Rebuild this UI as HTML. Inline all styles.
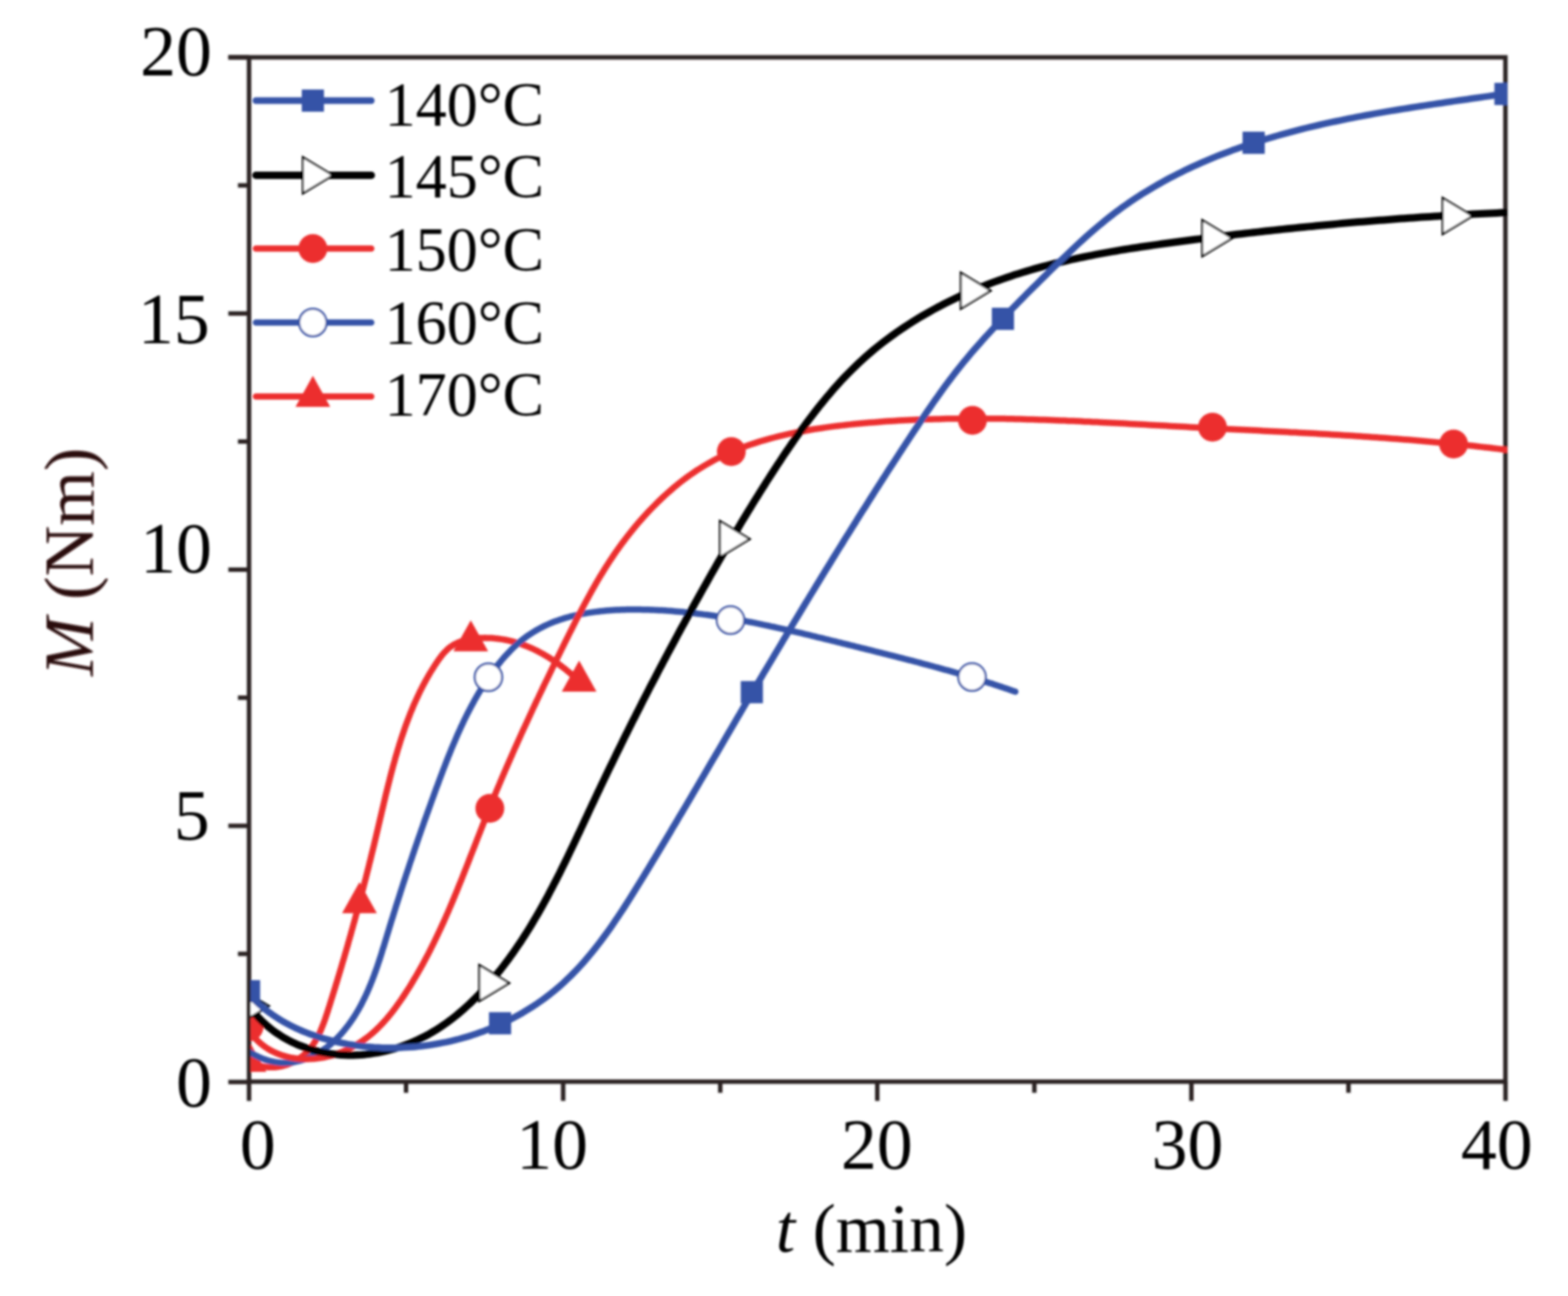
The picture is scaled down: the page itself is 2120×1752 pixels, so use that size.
<!DOCTYPE html>
<html><head><meta charset="utf-8"><title>M vs t</title>
<style>
html,body{margin:0;padding:0;background:#fff;}
svg{display:block;}
text{font-family:"Liberation Serif","Times New Roman",serif;}
</style></head><body>
<svg xmlns="http://www.w3.org/2000/svg" width="2120" height="1752" viewBox="0 0 2120 1752">
<rect width="2120" height="1752" fill="#fff"/>
<defs><filter id="bl" x="0" y="0" width="100%" height="100%" filterUnits="userSpaceOnUse"><feGaussianBlur stdDeviation="1.5"/></filter><clipPath id="pa"><rect x="339" y="74" width="1699" height="1386"/></clipPath></defs>
<g filter="url(#bl)">

<g stroke="#2a2224" stroke-width="6" fill="none" stroke-linecap="butt">
<path d="M336.7,74.8 V1462.3 M334.0,1462.3 H2038.1000000000001 M2035.4,1462.3 V74.8 M2038.1000000000001,77.5 H308.7"/>
<path d="M336.7,1462.7 H308.7"/>
<path d="M336.7,1116.4 H308.7"/>
<path d="M336.7,770.1 H308.7"/>
<path d="M336.7,423.8 H308.7"/>
<path d="M336.7,77.5 H308.7"/>
<path d="M336.7,1289.5 H321.7"/>
<path d="M336.7,943.2 H321.7"/>
<path d="M336.7,596.9 H321.7"/>
<path d="M336.7,250.6 H321.7"/>
<path d="M336.7,1462.3 V1488.3"/>
<path d="M761.4,1462.3 V1488.3"/>
<path d="M1186.1,1462.3 V1488.3"/>
<path d="M1610.8,1462.3 V1488.3"/>
<path d="M2035.5,1462.3 V1488.3"/>
<path d="M549.0,1462.3 V1477.3"/>
<path d="M973.8,1462.3 V1477.3"/>
<path d="M1398.5,1462.3 V1477.3"/>
<path d="M1823.2,1462.3 V1477.3"/>
</g>
<g clip-path="url(#pa)">
<path d="M336.3,1435.1 L338.5,1436.2 L340.7,1437.2 L342.9,1438.2 L345.1,1439.0 L347.3,1439.8 L349.5,1440.4 L351.7,1441.0 L353.9,1441.5 L356.1,1441.9 L358.3,1442.3 L360.5,1442.5 L362.7,1442.7 L364.9,1442.8 L367.1,1442.8 L369.2,1442.8 L371.4,1442.7 L373.5,1442.5 L375.7,1442.2 L377.8,1441.9 L379.9,1441.5 L382.0,1441.0 L384.0,1440.5 L386.1,1439.9 L388.1,1439.2 L390.1,1438.5 L392.0,1437.7 L394.0,1436.9 L395.9,1436.0 L397.8,1435.0 L399.6,1434.0 L401.4,1432.9 L403.2,1431.8 L405.0,1430.6 L406.7,1429.4 L408.3,1428.2 L410.0,1426.8 L411.5,1425.5 L413.1,1424.1 L414.6,1422.6 L416.0,1421.1 L417.4,1419.6 L418.8,1418.0 L420.1,1416.4 L421.4,1414.8 L422.6,1413.1 L423.8,1411.4 L424.9,1409.6 L426.0,1407.9 L427.1,1406.0 L428.2,1404.2 L429.2,1402.3 L430.1,1400.5 L431.1,1398.5 L432.0,1396.6 L432.9,1394.7 L433.8,1392.7 L434.6,1390.7 L435.4,1388.7 L436.2,1386.6 L437.0,1384.6 L437.8,1382.5 L438.5,1380.5 L439.3,1378.4 L440.0,1376.3 L440.7,1374.2 L441.4,1372.1 L442.1,1370.0 L442.8,1367.9 L443.5,1365.8 L444.1,1363.7 L444.8,1361.6 L445.5,1359.5 L446.1,1357.4 L446.8,1355.3 L447.4,1353.1 L448.1,1351.0 L448.8,1348.9 L449.4,1346.8 L450.1,1344.7 L450.7,1342.6 L451.4,1340.5 L452.0,1338.5 L452.7,1336.4 L453.3,1334.3 L453.9,1332.2 L454.6,1330.1 L455.2,1328.0 L455.9,1325.9 L456.5,1323.8 L457.1,1321.7 L457.8,1319.6 L458.4,1317.6 L459.0,1315.5 L459.6,1313.4 L460.3,1311.3 L460.9,1309.2 L461.5,1307.1 L462.1,1305.1 L462.7,1303.0 L463.3,1300.9 L463.9,1298.8 L464.6,1296.8 L465.2,1294.7 L465.8,1292.6 L466.4,1290.5 L467.0,1288.4 L467.6,1286.4 L468.2,1284.3 L468.8,1282.2 L469.4,1280.2 L470.0,1278.1 L470.6,1276.0 L471.1,1273.9 L471.7,1271.9 L472.3,1269.8 L472.9,1267.7 L473.5,1265.7 L474.1,1263.6 L474.7,1261.5 L475.2,1259.4 L475.8,1257.4 L476.4,1255.3 L477.0,1253.2 L477.5,1251.2 L478.1,1249.1 L478.7,1247.0 L479.3,1245.0 L479.8,1242.9 L480.4,1240.8 L480.9,1238.7 L481.5,1236.7 L482.1,1234.6 L482.6,1232.5 L483.2,1230.5 L483.7,1228.4 L484.3,1226.3 L484.9,1224.2 L485.4,1222.2 L486.0,1220.1 L486.5,1218.0 L487.1,1216.0 L487.6,1213.9 L488.2,1211.8 L488.7,1209.7 L489.2,1207.7 L489.8,1205.6 L490.3,1203.5 L490.9,1201.4 L491.4,1199.4 L491.9,1197.3 L492.5,1195.2 L493.0,1193.1 L493.5,1191.0 L494.1,1189.0 L494.6,1186.9 L495.1,1184.8 L495.7,1182.7 L496.2,1180.6 L496.7,1178.5 L497.2,1176.5 L497.8,1174.4 L498.3,1172.3 L498.8,1170.2 L499.3,1168.1 L499.8,1166.0 L500.4,1163.9 L500.9,1161.8 L501.4,1159.7 L501.9,1157.6 L502.4,1155.5 L502.9,1153.4 L503.4,1151.3 L504.0,1149.2 L504.5,1147.1 L505.0,1145.0 L505.5,1142.9 L506.0,1140.8 L506.5,1138.7 L507.0,1136.6 L507.5,1134.5 L508.0,1132.4 L508.5,1130.3 L509.0,1128.2 L509.5,1126.0 L510.0,1123.9 L510.5,1121.8 L511.0,1119.7 L511.5,1117.6 L512.0,1115.4 L512.5,1113.3 L513.0,1111.2 L513.5,1109.1 L514.0,1106.9 L514.5,1104.8 L515.0,1102.7 L515.5,1100.6 L516.0,1098.4 L516.5,1096.3 L517.0,1094.2 L517.5,1092.0 L518.0,1089.9 L518.5,1087.8 L519.0,1085.6 L519.5,1083.5 L520.0,1081.4 L520.5,1079.2 L521.0,1077.1 L521.5,1075.0 L522.0,1072.8 L522.6,1070.7 L523.1,1068.6 L523.6,1066.5 L524.1,1064.3 L524.7,1062.2 L525.2,1060.1 L525.7,1057.9 L526.3,1055.8 L526.8,1053.7 L527.3,1051.6 L527.9,1049.4 L528.4,1047.3 L529.0,1045.2 L529.5,1043.1 L530.1,1041.0 L530.7,1038.9 L531.2,1036.7 L531.8,1034.6 L532.4,1032.5 L533.0,1030.4 L533.6,1028.3 L534.1,1026.2 L534.7,1024.1 L535.3,1022.0 L536.0,1019.9 L536.6,1017.8 L537.2,1015.7 L537.8,1013.6 L538.4,1011.6 L539.1,1009.5 L539.7,1007.4 L540.4,1005.3 L541.0,1003.2 L541.7,1001.2 L542.3,999.1 L543.0,997.0 L543.7,995.0 L544.4,992.9 L545.1,990.9 L545.8,988.8 L546.5,986.8 L547.2,984.7 L547.9,982.7 L548.6,980.7 L549.4,978.6 L550.1,976.6 L550.9,974.6 L551.6,972.6 L552.4,970.6 L553.2,968.5 L554.0,966.5 L554.7,964.5 L555.5,962.5 L556.4,960.6 L557.2,958.6 L558.0,956.6 L558.8,954.6 L559.7,952.6 L560.5,950.7 L561.4,948.7 L562.3,946.8 L563.2,944.8 L564.1,942.9 L565.0,940.9 L565.9,939.0 L566.8,937.1 L567.7,935.1 L568.7,933.2 L569.7,931.3 L570.6,929.4 L571.6,927.5 L572.6,925.6 L573.6,923.7 L574.6,921.9 L575.6,920.0 L576.7,918.1 L577.7,916.3 L578.8,914.4 L579.8,912.6 L580.9,910.7 L582.0,908.9 L583.1,907.1 L584.2,905.3 L585.4,903.5 L586.5,901.7 L587.6,899.9 L588.8,898.1 L590.0,896.3 L591.2,894.5 L592.4,892.8 L593.6,891.0 L594.9,889.3 L596.2,887.6 L597.5,885.9 L598.8,884.3 L600.2,882.7 L601.6,881.2 L603.1,879.7 L604.6,878.2 L606.1,876.8 L607.7,875.5 L609.4,874.3 L611.1,873.1 L612.9,872.0 L614.7,870.9 L616.6,870.0 L618.5,869.1 L620.5,868.2 L622.5,867.5 L624.5,866.7 L626.6,866.1 L628.7,865.5 L630.9,865.0 L633.0,864.5 L635.2,864.1 L637.4,863.7 L639.7,863.4 L641.9,863.1 L644.2,862.8 L646.4,862.7 L648.7,862.5 L651.0,862.4 L653.3,862.4 L655.6,862.3 L657.8,862.4 L660.1,862.4 L662.4,862.5 L664.6,862.6 L666.8,862.8 L669.1,863.0 L671.3,863.2 L673.5,863.5 L675.7,863.8 L677.9,864.1 L680.0,864.4 L682.2,864.8 L684.4,865.2 L686.5,865.7 L688.6,866.2 L690.8,866.7 L692.9,867.2 L695.0,867.8 L697.1,868.4 L699.1,869.0 L701.2,869.6 L703.3,870.3 L705.3,871.0 L707.4,871.7 L709.4,872.5 L711.4,873.3 L713.4,874.1 L715.4,874.9 L717.4,875.8 L719.4,876.6 L721.3,877.5 L723.3,878.5 L725.2,879.4 L727.2,880.4 L729.1,881.4 L731.0,882.4 L732.9,883.4 L734.8,884.5 L736.6,885.6 L738.5,886.7 L740.4,887.8 L742.2,888.9 L744.0,890.1 L745.9,891.3 L747.7,892.5 L749.5,893.7 L751.2,894.9 L753.0,896.1 L754.8,897.4 L756.5,898.7 L758.3,900.0 L760.0,901.3 L761.7,902.6 L763.4,903.9 L765.1,905.3 L766.8,906.7 L768.4,908.0 L770.1,909.4 L771.7,910.8 L773.4,912.3 L775.0,913.7 L776.6,915.1 L778.2,916.6 L779.8,918.0 L781.4,919.5 L782.9,921.0" fill="none" stroke-linecap="round" stroke-linejoin="round" stroke="#ec2d2d" stroke-width="8.5"/>
<polygon points="336.7,1407.0 313.2,1449.0 360.2,1449.0" fill="#ec2d2d"/>
<polygon points="486.0,1192.4 462.5,1234.4 509.5,1234.4" fill="#ec2d2d"/>
<polygon points="636.5,838.5 613.0,880.5 660.0,880.5" fill="#ec2d2d"/>
<polygon points="783.0,893.0 759.5,935.0 806.5,935.0" fill="#ec2d2d"/>
<path d="M335.3,1420.7 L338.9,1423.1 L342.5,1425.2 L346.2,1427.2 L349.8,1428.9 L353.4,1430.5 L357.0,1431.9 L360.6,1433.1 L364.2,1434.1 L367.7,1434.9 L371.3,1435.6 L374.8,1436.1 L378.4,1436.5 L381.9,1436.7 L385.4,1436.7 L388.9,1436.6 L392.3,1436.4 L395.7,1436.0 L399.1,1435.4 L402.5,1434.7 L405.8,1433.9 L409.1,1433.0 L412.4,1431.9 L415.6,1430.8 L418.8,1429.5 L421.9,1428.1 L425.0,1426.5 L428.0,1424.9 L431.0,1423.2 L433.9,1421.4 L436.8,1419.5 L439.6,1417.4 L442.4,1415.4 L445.1,1413.2 L447.8,1410.9 L450.4,1408.6 L453.0,1406.2 L455.5,1403.7 L458.0,1401.2 L460.4,1398.6 L462.8,1395.9 L465.1,1393.2 L467.3,1390.4 L469.5,1387.6 L471.7,1384.7 L473.8,1381.8 L475.8,1378.9 L477.8,1376.0 L479.7,1373.0 L481.6,1369.9 L483.4,1366.9 L485.2,1363.8 L486.9,1360.7 L488.6,1357.6 L490.2,1354.4 L491.8,1351.2 L493.4,1348.0 L494.9,1344.8 L496.4,1341.6 L497.8,1338.3 L499.2,1335.0 L500.6,1331.8 L501.9,1328.4 L503.3,1325.1 L504.5,1321.8 L505.8,1318.4 L507.0,1315.0 L508.2,1311.7 L509.4,1308.3 L510.6,1304.9 L511.7,1301.5 L512.9,1298.0 L514.0,1294.6 L515.1,1291.2 L516.2,1287.7 L517.2,1284.3 L518.3,1280.9 L519.4,1277.4 L520.4,1274.0 L521.5,1270.5 L522.5,1267.1 L523.6,1263.6 L524.6,1260.2 L525.7,1256.7 L526.7,1253.3 L527.8,1249.9 L528.8,1246.4 L529.9,1243.0 L531.0,1239.6 L532.0,1236.2 L533.1,1232.7 L534.2,1229.3 L535.2,1225.9 L536.3,1222.5 L537.4,1219.1 L538.5,1215.7 L539.6,1212.3 L540.7,1208.9 L541.7,1205.5 L542.8,1202.1 L543.9,1198.7 L545.0,1195.3 L546.1,1191.9 L547.2,1188.6 L548.3,1185.2 L549.4,1181.8 L550.6,1178.4 L551.7,1175.1 L552.8,1171.7 L553.9,1168.3 L555.0,1165.0 L556.2,1161.6 L557.3,1158.2 L558.4,1154.9 L559.6,1151.5 L560.7,1148.2 L561.8,1144.8 L563.0,1141.5 L564.1,1138.1 L565.3,1134.8 L566.4,1131.4 L567.6,1128.1 L568.8,1124.7 L569.9,1121.4 L571.1,1118.1 L572.3,1114.7 L573.4,1111.4 L574.6,1108.0 L575.8,1104.7 L577.0,1101.4 L578.2,1098.0 L579.4,1094.7 L580.6,1091.4 L581.8,1088.1 L583.0,1084.7 L584.2,1081.4 L585.4,1078.1 L586.6,1074.8 L587.8,1071.4 L589.0,1068.1 L590.2,1064.8 L591.5,1061.5 L592.7,1058.2 L593.9,1054.9 L595.2,1051.5 L596.4,1048.2 L597.7,1044.9 L598.9,1041.6 L600.2,1038.3 L601.5,1035.0 L602.7,1031.7 L604.0,1028.4 L605.3,1025.1 L606.6,1021.8 L608.0,1018.5 L609.3,1015.2 L610.6,1011.9 L612.0,1008.6 L613.4,1005.3 L614.8,1002.1 L616.2,998.8 L617.6,995.5 L619.0,992.3 L620.5,989.0 L622.0,985.8 L623.4,982.5 L625.0,979.3 L626.5,976.0 L628.0,972.8 L629.6,969.6 L631.2,966.4 L632.8,963.2 L634.5,960.0 L636.2,956.8 L637.9,953.6 L639.6,950.4 L641.3,947.2 L643.1,944.1 L644.9,940.9 L646.7,937.8 L648.6,934.7 L650.5,931.5 L652.4,928.4 L654.4,925.3 L656.4,922.2 L658.4,919.2 L660.4,916.2 L662.5,913.1 L664.6,910.1 L666.8,907.2 L668.9,904.3 L671.1,901.4 L673.4,898.5 L675.7,895.7 L678.0,892.9 L680.3,890.1 L682.7,887.4 L685.1,884.8 L687.6,882.2 L690.1,879.6 L692.6,877.1 L695.1,874.6 L697.7,872.2 L700.3,869.9 L703.0,867.6 L705.7,865.4 L708.5,863.2 L711.2,861.1 L714.1,859.1 L716.9,857.2 L719.8,855.3 L722.7,853.5 L725.7,851.8 L728.7,850.1 L731.7,848.5 L734.8,846.9 L737.9,845.4 L741.0,844.0 L744.1,842.6 L747.3,841.3 L750.5,840.1 L753.8,838.9 L757.0,837.8 L760.3,836.7 L763.6,835.6 L767.0,834.7 L770.3,833.7 L773.7,832.9 L777.1,832.1 L780.5,831.3 L784.0,830.5 L787.4,829.9 L790.9,829.2 L794.4,828.6 L797.9,828.1 L801.4,827.6 L804.9,827.1 L808.5,826.7 L812.0,826.3 L815.6,825.9 L819.1,825.6 L822.7,825.3 L826.3,825.0 L829.9,824.8 L833.5,824.6 L837.1,824.5 L840.7,824.3 L844.3,824.2 L847.9,824.1 L851.5,824.1 L855.1,824.0 L858.7,824.0 L862.3,824.1 L865.9,824.1 L869.5,824.2 L873.1,824.2 L876.7,824.3 L880.3,824.4 L883.9,824.6 L887.5,824.7 L891.0,824.9 L894.6,825.1 L898.2,825.3 L901.8,825.6 L905.3,825.8 L908.9,826.1 L912.5,826.4 L916.0,826.7 L919.6,827.0 L923.1,827.3 L926.7,827.7 L930.2,828.0 L933.8,828.4 L937.3,828.8 L940.9,829.2 L944.4,829.7 L947.9,830.1 L951.5,830.6 L955.0,831.0 L958.5,831.5 L962.1,832.0 L965.6,832.5 L969.1,833.1 L972.6,833.6 L976.1,834.2 L979.7,834.7 L983.2,835.3 L986.7,835.9 L990.2,836.5 L993.7,837.1 L997.2,837.7 L1000.7,838.4 L1004.2,839.0 L1007.7,839.7 L1011.2,840.4 L1014.7,841.0 L1018.2,841.7 L1021.7,842.4 L1025.2,843.1 L1028.7,843.8 L1032.2,844.6 L1035.7,845.3 L1039.1,846.0 L1042.6,846.8 L1046.1,847.5 L1049.6,848.3 L1053.1,849.1 L1056.5,849.8 L1060.0,850.6 L1063.5,851.4 L1067.0,852.2 L1070.4,853.0 L1073.9,853.8 L1077.4,854.6 L1080.9,855.4 L1084.3,856.2 L1087.8,857.1 L1091.3,857.9 L1094.7,858.7 L1098.2,859.6 L1101.7,860.4 L1105.1,861.3 L1108.6,862.1 L1112.1,862.9 L1115.5,863.8 L1119.0,864.6 L1122.4,865.5 L1125.9,866.4 L1129.4,867.2 L1132.8,868.1 L1136.3,868.9 L1139.7,869.8 L1143.2,870.7 L1146.6,871.5 L1150.1,872.4 L1153.6,873.2 L1157.0,874.1 L1160.5,874.9 L1163.9,875.8 L1167.4,876.7 L1170.8,877.5 L1174.3,878.4 L1177.7,879.2 L1181.2,880.1 L1184.6,881.0 L1188.1,881.8 L1191.5,882.7 L1195.0,883.6 L1198.4,884.4 L1201.9,885.3 L1205.3,886.2 L1208.8,887.0 L1212.2,887.9 L1215.7,888.8 L1219.1,889.7 L1222.6,890.6 L1226.0,891.5 L1229.4,892.3 L1232.9,893.2 L1236.3,894.1 L1239.8,895.0 L1243.2,895.9 L1246.6,896.9 L1250.1,897.8 L1253.5,898.7 L1256.9,899.6 L1260.4,900.5 L1263.8,901.5 L1267.2,902.4 L1270.7,903.4 L1274.1,904.3 L1277.5,905.3 L1281.0,906.2 L1284.4,907.2 L1287.8,908.2 L1291.2,909.2 L1294.6,910.1 L1298.1,911.1 L1301.5,912.1 L1304.9,913.1 L1308.3,914.2 L1311.7,915.2 L1315.1,916.2 L1318.5,917.2 L1321.9,918.3 L1325.3,919.3 L1328.8,920.4 L1332.2,921.5 L1335.6,922.6 L1339.0,923.7 L1342.4,924.7 L1345.7,925.9 L1349.1,927.0 L1352.5,928.1 L1355.9,929.2 L1359.3,930.4 L1362.7,931.5 L1366.1,932.7 L1369.5,933.9 L1372.8,935.1" fill="none" stroke-linecap="round" stroke-linejoin="round" stroke="#3653a7" stroke-width="8.5"/>
<circle cx="660.4" cy="915.5" r="18.5" fill="#fff" stroke="#3653a7" stroke-width="3"/>
<circle cx="987.7" cy="838.3" r="18.5" fill="#fff" stroke="#3653a7" stroke-width="3"/>
<circle cx="1314.2" cy="915.3" r="18.5" fill="#fff" stroke="#3653a7" stroke-width="3"/>
<path d="M334.8,1390.2 L338.1,1395.2 L341.6,1399.8 L345.4,1404.1 L349.4,1408.0 L353.6,1411.7 L358.0,1415.0 L362.5,1418.0 L367.2,1420.7 L372.1,1423.0 L377.1,1425.1 L382.2,1426.9 L387.4,1428.4 L392.7,1429.6 L398.0,1430.5 L403.4,1431.2 L408.8,1431.6 L414.3,1431.7 L419.8,1431.6 L425.3,1431.3 L430.7,1430.6 L436.1,1429.8 L441.5,1428.7 L446.8,1427.4 L452.0,1425.9 L457.2,1424.1 L462.3,1422.2 L467.3,1420.0 L472.2,1417.7 L477.0,1415.1 L481.8,1412.4 L486.4,1409.5 L490.9,1406.5 L495.3,1403.3 L499.6,1400.0 L503.8,1396.5 L507.8,1392.9 L511.7,1389.1 L515.5,1385.2 L519.2,1381.3 L522.8,1377.2 L526.3,1373.0 L529.7,1368.8 L533.1,1364.4 L536.3,1360.0 L539.5,1355.6 L542.6,1351.1 L545.7,1346.5 L548.7,1341.9 L551.7,1337.3 L554.6,1332.7 L557.4,1328.0 L560.2,1323.3 L563.0,1318.6 L565.7,1313.9 L568.4,1309.1 L571.1,1304.3 L573.7,1299.5 L576.2,1294.7 L578.8,1289.9 L581.3,1285.0 L583.7,1280.2 L586.1,1275.3 L588.5,1270.4 L590.9,1265.4 L593.2,1260.5 L595.5,1255.6 L597.8,1250.6 L600.1,1245.6 L602.3,1240.6 L604.5,1235.6 L606.7,1230.6 L608.8,1225.6 L611.0,1220.5 L613.1,1215.5 L615.2,1210.4 L617.3,1205.3 L619.3,1200.3 L621.4,1195.2 L623.5,1190.1 L625.5,1185.0 L627.5,1179.9 L629.5,1174.8 L631.5,1169.7 L633.5,1164.6 L635.5,1159.4 L637.5,1154.3 L639.5,1149.2 L641.5,1144.1 L643.5,1139.0 L645.5,1133.8 L647.5,1128.7 L649.5,1123.6 L651.5,1118.5 L653.5,1113.4 L655.5,1108.3 L657.5,1103.1 L659.6,1098.0 L661.6,1092.9 L663.7,1087.9 L665.8,1082.8 L667.8,1077.7 L669.9,1072.6 L672.0,1067.5 L674.2,1062.5 L676.3,1057.4 L678.4,1052.4 L680.6,1047.3 L682.7,1042.3 L684.9,1037.2 L687.1,1032.2 L689.3,1027.2 L691.5,1022.2 L693.7,1017.1 L695.9,1012.1 L698.2,1007.1 L700.4,1002.1 L702.7,997.1 L704.9,992.1 L707.2,987.1 L709.5,982.2 L711.8,977.2 L714.1,972.2 L716.4,967.2 L718.7,962.3 L721.0,957.3 L723.3,952.4 L725.6,947.4 L728.0,942.5 L730.3,937.5 L732.7,932.6 L735.0,927.6 L737.4,922.7 L739.8,917.8 L742.2,912.9 L744.6,907.9 L746.9,903.0 L749.3,898.1 L751.7,893.2 L754.1,888.3 L756.6,883.4 L759.0,878.5 L761.4,873.6 L763.8,868.7 L766.2,863.8 L768.7,858.9 L771.1,854.0 L773.6,849.2 L776.0,844.3 L778.5,839.4 L781.0,834.6 L783.5,829.7 L786.0,824.9 L788.5,820.1 L791.1,815.3 L793.7,810.5 L796.3,805.7 L798.9,800.9 L801.6,796.2 L804.3,791.4 L807.0,786.7 L809.7,782.0 L812.6,777.3 L815.4,772.7 L818.3,768.0 L821.2,763.4 L824.2,758.8 L827.2,754.3 L830.3,749.7 L833.4,745.2 L836.6,740.7 L839.8,736.3 L843.1,731.9 L846.4,727.5 L849.8,723.1 L853.2,718.8 L856.7,714.5 L860.2,710.3 L863.8,706.1 L867.5,701.9 L871.1,697.8 L874.9,693.7 L878.7,689.6 L882.6,685.6 L886.5,681.7 L890.4,677.8 L894.5,673.9 L898.5,670.1 L902.7,666.4 L906.9,662.7 L911.1,659.1 L915.4,655.5 L919.7,652.0 L924.1,648.6 L928.6,645.3 L933.0,642.1 L937.6,638.9 L942.1,635.9 L946.8,633.0 L951.4,630.1 L956.1,627.4 L960.8,624.7 L965.6,622.1 L970.4,619.6 L975.3,617.2 L980.2,614.9 L985.1,612.7 L990.0,610.5 L995.0,608.4 L1000.0,606.4 L1005.1,604.5 L1010.2,602.6 L1015.3,600.8 L1020.4,599.1 L1025.6,597.4 L1030.7,595.8 L1035.9,594.3 L1041.2,592.9 L1046.4,591.5 L1051.7,590.1 L1057.0,588.8 L1062.3,587.6 L1067.6,586.4 L1073.0,585.3 L1078.3,584.2 L1083.7,583.2 L1089.1,582.2 L1094.5,581.2 L1099.9,580.3 L1105.4,579.5 L1110.8,578.7 L1116.2,577.9 L1121.7,577.1 L1127.1,576.4 L1132.6,575.8 L1138.1,575.1 L1143.5,574.5 L1149.0,573.9 L1154.5,573.3 L1160.0,572.8 L1165.4,572.3 L1170.9,571.8 L1176.4,571.3 L1181.9,570.9 L1187.4,570.4 L1192.8,570.0 L1198.3,569.6 L1203.8,569.3 L1209.3,568.9 L1214.7,568.6 L1220.2,568.3 L1225.7,568.0 L1231.2,567.7 L1236.6,567.5 L1242.1,567.3 L1247.6,567.0 L1253.1,566.8 L1258.6,566.7 L1264.0,566.5 L1269.5,566.4 L1275.0,566.2 L1280.5,566.1 L1285.9,566.0 L1291.4,566.0 L1296.9,565.9 L1302.4,565.9 L1307.9,565.8 L1313.3,565.8 L1318.8,565.8 L1324.3,565.8 L1329.8,565.8 L1335.3,565.9 L1340.7,565.9 L1346.2,566.0 L1351.7,566.1 L1357.2,566.1 L1362.6,566.2 L1368.1,566.3 L1373.6,566.5 L1379.1,566.6 L1384.6,566.7 L1390.0,566.9 L1395.5,567.0 L1401.0,567.2 L1406.5,567.4 L1412.0,567.6 L1417.4,567.8 L1422.9,568.0 L1428.4,568.2 L1433.9,568.4 L1439.3,568.6 L1444.8,568.9 L1450.3,569.1 L1455.8,569.3 L1461.3,569.6 L1466.7,569.9 L1472.2,570.1 L1477.7,570.4 L1483.2,570.6 L1488.6,570.9 L1494.1,571.2 L1499.6,571.5 L1505.1,571.8 L1510.5,572.1 L1516.0,572.3 L1521.5,572.6 L1527.0,572.9 L1532.5,573.2 L1537.9,573.5 L1543.4,573.8 L1548.9,574.1 L1554.4,574.4 L1559.8,574.7 L1565.3,575.0 L1570.8,575.3 L1576.3,575.6 L1581.7,575.9 L1587.2,576.2 L1592.7,576.5 L1598.2,576.8 L1603.6,577.1 L1609.1,577.4 L1614.6,577.7 L1620.1,578.0 L1625.5,578.2 L1631.0,578.5 L1636.5,578.8 L1642.0,579.1 L1647.4,579.4 L1652.9,579.6 L1658.4,579.9 L1663.9,580.2 L1669.3,580.5 L1674.8,580.7 L1680.3,581.0 L1685.8,581.3 L1691.2,581.5 L1696.7,581.8 L1702.2,582.1 L1707.6,582.4 L1713.1,582.7 L1718.6,582.9 L1724.1,583.2 L1729.5,583.5 L1735.0,583.8 L1740.5,584.1 L1745.9,584.4 L1751.4,584.6 L1756.9,584.9 L1762.3,585.2 L1767.8,585.5 L1773.3,585.8 L1778.8,586.1 L1784.2,586.5 L1789.7,586.8 L1795.2,587.1 L1800.6,587.4 L1806.1,587.7 L1811.6,588.1 L1817.0,588.4 L1822.5,588.7 L1828.0,589.1 L1833.4,589.4 L1838.9,589.8 L1844.4,590.2 L1849.8,590.5 L1855.3,590.9 L1860.8,591.3 L1866.2,591.7 L1871.7,592.1 L1877.2,592.5 L1882.6,592.9 L1888.1,593.3 L1893.6,593.7 L1899.0,594.2 L1904.5,594.6 L1909.9,595.0 L1915.4,595.5 L1920.9,596.0 L1926.3,596.4 L1931.8,596.9 L1937.3,597.4 L1942.7,597.9 L1948.2,598.4 L1953.6,598.9 L1959.1,599.5 L1964.6,600.0 L1970.0,600.6 L1975.5,601.1 L1980.9,601.7 L1986.4,602.3 L1991.8,602.8 L1997.3,603.5 L2002.8,604.1 L2008.2,604.7 L2013.7,605.3 L2019.1,606.0 L2024.6,606.6 L2030.0,607.3 L2035.5,608.0" fill="none" stroke-linecap="round" stroke-linejoin="round" stroke="#ec2d2d" stroke-width="8.5"/>
<circle cx="336.7" cy="1388.0" r="19.5" fill="#ec2d2d"/>
<circle cx="662.3" cy="1092.8" r="19.5" fill="#ec2d2d"/>
<circle cx="988.8" cy="610.5" r="19.5" fill="#ec2d2d"/>
<circle cx="1314.8" cy="568.3" r="19.5" fill="#ec2d2d"/>
<circle cx="1639.3" cy="577.5" r="19.5" fill="#ec2d2d"/>
<circle cx="1965.3" cy="600.2" r="19.5" fill="#ec2d2d"/>
<path d="M337.4,1361.1 L341.0,1365.9 L344.8,1370.5 L348.8,1374.9 L352.9,1379.1 L357.1,1383.1 L361.4,1386.9 L365.9,1390.6 L370.4,1394.1 L375.1,1397.3 L379.9,1400.4 L384.8,1403.4 L389.7,1406.1 L394.8,1408.7 L399.9,1411.1 L405.1,1413.3 L410.4,1415.3 L415.7,1417.2 L421.1,1418.9 L426.6,1420.4 L432.1,1421.8 L437.6,1422.9 L443.2,1423.9 L448.8,1424.8 L454.4,1425.4 L460.1,1425.9 L465.7,1426.2 L471.4,1426.4 L477.1,1426.4 L482.8,1426.2 L488.4,1425.9 L494.1,1425.4 L499.7,1424.7 L505.4,1423.9 L511.0,1423.0 L516.6,1421.9 L522.1,1420.6 L527.6,1419.2 L533.1,1417.7 L538.6,1416.0 L544.0,1414.2 L549.3,1412.2 L554.6,1410.1 L559.9,1407.9 L565.1,1405.6 L570.2,1403.1 L575.3,1400.5 L580.3,1397.8 L585.2,1394.9 L590.1,1392.0 L594.9,1388.9 L599.6,1385.7 L604.2,1382.5 L608.8,1379.1 L613.3,1375.6 L617.7,1372.1 L622.1,1368.4 L626.4,1364.7 L630.6,1360.9 L634.8,1357.1 L638.9,1353.1 L643.0,1349.1 L647.0,1345.0 L650.9,1340.9 L654.8,1336.8 L658.6,1332.5 L662.3,1328.3 L666.0,1324.0 L669.7,1319.6 L673.2,1315.2 L676.8,1310.8 L680.3,1306.3 L683.7,1301.8 L687.1,1297.3 L690.4,1292.7 L693.7,1288.1 L696.9,1283.5 L700.1,1278.8 L703.3,1274.2 L706.4,1269.4 L709.4,1264.7 L712.5,1259.9 L715.5,1255.1 L718.4,1250.3 L721.3,1245.4 L724.2,1240.5 L727.1,1235.6 L729.9,1230.7 L732.7,1225.7 L735.4,1220.8 L738.2,1215.8 L740.9,1210.8 L743.5,1205.7 L746.2,1200.7 L748.8,1195.6 L751.4,1190.6 L754.0,1185.5 L756.6,1180.4 L759.1,1175.3 L761.7,1170.1 L764.2,1165.0 L766.7,1159.9 L769.2,1154.7 L771.6,1149.5 L774.1,1144.4 L776.6,1139.2 L779.0,1134.0 L781.4,1128.8 L783.9,1123.7 L786.3,1118.5 L788.7,1113.3 L791.1,1108.1 L793.6,1102.9 L796.0,1097.7 L798.4,1092.5 L800.8,1087.3 L803.3,1082.2 L805.7,1077.0 L808.1,1071.8 L810.6,1066.7 L813.0,1061.5 L815.5,1056.4 L818.0,1051.2 L820.4,1046.1 L822.9,1040.9 L825.4,1035.8 L827.9,1030.7 L830.4,1025.6 L832.9,1020.4 L835.4,1015.3 L837.9,1010.2 L840.4,1005.1 L842.9,1000.0 L845.4,994.9 L848.0,989.9 L850.5,984.8 L853.0,979.7 L855.6,974.6 L858.2,969.6 L860.7,964.5 L863.3,959.4 L865.9,954.4 L868.4,949.3 L871.0,944.3 L873.6,939.2 L876.2,934.2 L878.8,929.1 L881.4,924.1 L884.1,919.1 L886.7,914.1 L889.3,909.0 L891.9,904.0 L894.6,899.0 L897.2,894.0 L899.9,889.0 L902.5,884.0 L905.2,879.0 L907.9,874.0 L910.6,869.0 L913.3,864.0 L915.9,859.0 L918.6,854.0 L921.3,849.0 L924.1,844.1 L926.8,839.1 L929.5,834.1 L932.2,829.1 L935.0,824.2 L937.7,819.2 L940.4,814.2 L943.2,809.3 L946.0,804.3 L948.7,799.4 L951.5,794.4 L954.3,789.5 L957.1,784.5 L959.8,779.6 L962.6,774.6 L965.5,769.7 L968.3,764.8 L971.1,759.8 L973.9,754.9 L976.8,750.0 L979.6,745.0 L982.5,740.1 L985.3,735.2 L988.2,730.3 L991.1,725.4 L994.0,720.5 L996.9,715.6 L999.8,710.7 L1002.7,705.8 L1005.7,700.9 L1008.6,696.1 L1011.6,691.2 L1014.6,686.3 L1017.5,681.5 L1020.5,676.6 L1023.6,671.8 L1026.6,666.9 L1029.6,662.1 L1032.7,657.3 L1035.7,652.4 L1038.8,647.6 L1041.9,642.8 L1045.0,638.0 L1048.1,633.2 L1051.2,628.4 L1054.4,623.7 L1057.5,618.9 L1060.7,614.1 L1063.9,609.4 L1067.1,604.7 L1070.4,599.9 L1073.6,595.2 L1076.9,590.5 L1080.2,585.9 L1083.5,581.2 L1086.9,576.6 L1090.3,572.0 L1093.7,567.4 L1097.1,562.9 L1100.6,558.4 L1104.1,553.9 L1107.6,549.4 L1111.2,545.0 L1114.8,540.6 L1118.4,536.2 L1122.1,531.9 L1125.8,527.6 L1129.5,523.3 L1133.3,519.1 L1137.1,514.9 L1141.0,510.8 L1144.9,506.7 L1148.9,502.7 L1152.9,498.7 L1156.9,494.8 L1161.0,490.9 L1165.1,487.1 L1169.3,483.3 L1173.6,479.5 L1177.8,475.9 L1182.2,472.2 L1186.6,468.7 L1191.0,465.2 L1195.4,461.7 L1200.0,458.3 L1204.5,454.9 L1209.1,451.6 L1213.7,448.3 L1218.4,445.1 L1223.1,442.0 L1227.9,438.9 L1232.6,435.8 L1237.5,432.8 L1242.3,429.8 L1247.2,426.9 L1252.1,424.1 L1257.0,421.3 L1262.0,418.5 L1267.0,415.8 L1272.1,413.2 L1277.1,410.5 L1282.2,408.0 L1287.3,405.5 L1292.5,403.0 L1297.6,400.6 L1302.8,398.2 L1308.0,395.9 L1313.2,393.6 L1318.5,391.4 L1323.7,389.2 L1329.0,387.1 L1334.3,385.0 L1339.6,382.9 L1344.9,380.9 L1350.3,379.0 L1355.6,377.1 L1361.0,375.2 L1366.4,373.4 L1371.7,371.6 L1377.1,369.9 L1382.5,368.2 L1388.0,366.6 L1393.4,365.0 L1398.8,363.4 L1404.3,361.9 L1409.7,360.4 L1415.2,359.0 L1420.6,357.6 L1426.1,356.2 L1431.6,354.9 L1437.1,353.6 L1442.6,352.3 L1448.1,351.0 L1453.6,349.8 L1459.1,348.6 L1464.7,347.5 L1470.2,346.4 L1475.7,345.3 L1481.3,344.2 L1486.8,343.1 L1492.4,342.1 L1498.0,341.1 L1503.5,340.1 L1509.1,339.2 L1514.7,338.2 L1520.3,337.3 L1525.9,336.4 L1531.4,335.5 L1537.0,334.7 L1542.7,333.8 L1548.3,333.0 L1553.9,332.2 L1559.5,331.4 L1565.1,330.6 L1570.7,329.8 L1576.3,329.0 L1582.0,328.2 L1587.6,327.5 L1593.2,326.7 L1598.9,326.0 L1604.5,325.3 L1610.1,324.5 L1615.8,323.8 L1621.4,323.1 L1627.1,322.4 L1632.7,321.6 L1638.3,320.9 L1644.0,320.2 L1649.6,319.6 L1655.3,318.9 L1660.9,318.2 L1666.6,317.5 L1672.3,316.8 L1677.9,316.2 L1683.6,315.5 L1689.2,314.9 L1694.9,314.2 L1700.6,313.6 L1706.2,313.0 L1711.9,312.3 L1717.5,311.7 L1723.2,311.1 L1728.9,310.5 L1734.6,309.9 L1740.2,309.3 L1745.9,308.7 L1751.6,308.1 L1757.2,307.5 L1762.9,307.0 L1768.6,306.4 L1774.3,305.9 L1779.9,305.3 L1785.6,304.8 L1791.3,304.2 L1797.0,303.7 L1802.6,303.2 L1808.3,302.6 L1814.0,302.1 L1819.7,301.6 L1825.4,301.1 L1831.0,300.6 L1836.7,300.1 L1842.4,299.7 L1848.1,299.2 L1853.8,298.7 L1859.4,298.3 L1865.1,297.8 L1870.8,297.4 L1876.5,296.9 L1882.2,296.5 L1887.9,296.1 L1893.5,295.6 L1899.2,295.2 L1904.9,294.8 L1910.6,294.4 L1916.3,294.0 L1921.9,293.6 L1927.6,293.3 L1933.3,292.9 L1939.0,292.5 L1944.7,292.2 L1950.3,291.8 L1956.0,291.5 L1961.7,291.1 L1967.4,290.8 L1973.0,290.5 L1978.7,290.2 L1984.4,289.9 L1990.1,289.6 L1995.7,289.3 L2001.4,289.0 L2007.1,288.7 L2012.7,288.4 L2018.4,288.2 L2024.1,287.9 L2029.8,287.6 L2035.4,287.4" fill="none" stroke-linecap="round" stroke-linejoin="round" stroke="#000" stroke-width="10"/>
<polygon points="323.2,1335.5 323.2,1384.5 363.7,1360.0" fill="#fff" stroke="#000" stroke-width="2.8" stroke-linejoin="miter"/>
<polygon points="648.0,1304.5 648.0,1353.5 688.5,1329.0" fill="#fff" stroke="#000" stroke-width="2.8" stroke-linejoin="miter"/>
<polygon points="973.3,704.3 973.3,753.3 1013.8,728.8" fill="#fff" stroke="#000" stroke-width="2.8" stroke-linejoin="miter"/>
<polygon points="1299.0,368.5 1299.0,417.5 1339.5,393.0" fill="#fff" stroke="#000" stroke-width="2.8" stroke-linejoin="miter"/>
<polygon points="1625.5,297.5 1625.5,346.5 1666.0,322.0" fill="#fff" stroke="#000" stroke-width="2.8" stroke-linejoin="miter"/>
<polygon points="1950.5,267.5 1950.5,316.5 1991.0,292.0" fill="#fff" stroke="#000" stroke-width="2.8" stroke-linejoin="miter"/>
<path d="M334.5,1341.8 L338.4,1346.1 L342.4,1350.2 L346.6,1354.2 L350.8,1358.1 L355.2,1361.8 L359.6,1365.4 L364.2,1368.8 L368.9,1372.1 L373.6,1375.3 L378.5,1378.4 L383.4,1381.3 L388.4,1384.1 L393.5,1386.7 L398.7,1389.3 L403.9,1391.7 L409.2,1394.0 L414.6,1396.1 L420.0,1398.2 L425.5,1400.1 L431.0,1401.9 L436.5,1403.6 L442.2,1405.2 L447.8,1406.7 L453.5,1408.1 L459.2,1409.3 L464.9,1410.5 L470.7,1411.6 L476.5,1412.5 L482.2,1413.4 L488.0,1414.1 L493.9,1414.8 L499.7,1415.3 L505.5,1415.8 L511.3,1416.1 L517.2,1416.4 L523.0,1416.5 L528.9,1416.6 L534.7,1416.5 L540.5,1416.4 L546.4,1416.1 L552.2,1415.8 L558.0,1415.4 L563.8,1414.9 L569.6,1414.2 L575.4,1413.5 L581.2,1412.7 L587.0,1411.8 L592.7,1410.8 L598.4,1409.7 L604.1,1408.6 L609.8,1407.3 L615.5,1405.9 L621.1,1404.5 L626.7,1402.9 L632.3,1401.3 L637.8,1399.6 L643.4,1397.7 L648.8,1395.8 L654.3,1393.9 L659.7,1391.8 L665.1,1389.6 L670.4,1387.3 L675.7,1385.0 L680.9,1382.6 L686.1,1380.1 L691.3,1377.5 L696.4,1374.8 L701.5,1372.0 L706.5,1369.2 L711.4,1366.2 L716.3,1363.2 L721.2,1360.1 L726.0,1356.9 L730.7,1353.6 L735.3,1350.3 L739.9,1346.8 L744.5,1343.3 L749.0,1339.7 L753.4,1336.1 L757.7,1332.3 L762.0,1328.5 L766.1,1324.6 L770.3,1320.6 L774.3,1316.5 L778.4,1312.4 L782.3,1308.2 L786.2,1304.0 L790.0,1299.7 L793.8,1295.3 L797.5,1290.9 L801.2,1286.4 L804.8,1281.9 L808.4,1277.3 L811.9,1272.7 L815.4,1268.0 L818.9,1263.3 L822.3,1258.6 L825.7,1253.8 L829.0,1249.0 L832.3,1244.1 L835.6,1239.3 L838.8,1234.4 L842.1,1229.5 L845.3,1224.5 L848.4,1219.6 L851.6,1214.6 L854.7,1209.6 L857.8,1204.6 L860.9,1199.6 L864.0,1194.6 L867.1,1189.6 L870.2,1184.6 L873.2,1179.6 L876.3,1174.6 L879.3,1169.6 L882.3,1164.6 L885.4,1159.6 L888.4,1154.6 L891.4,1149.6 L894.4,1144.6 L897.4,1139.6 L900.4,1134.6 L903.4,1129.6 L906.4,1124.6 L909.3,1119.6 L912.3,1114.6 L915.3,1109.6 L918.2,1104.6 L921.2,1099.6 L924.1,1094.7 L927.1,1089.7 L930.0,1084.7 L933.0,1079.7 L935.9,1074.7 L938.8,1069.7 L941.8,1064.7 L944.7,1059.7 L947.6,1054.8 L950.6,1049.8 L953.5,1044.8 L956.4,1039.8 L959.3,1034.8 L962.2,1029.8 L965.2,1024.8 L968.1,1019.9 L971.0,1014.9 L973.9,1009.9 L976.8,1004.9 L979.7,999.9 L982.6,994.9 L985.6,989.9 L988.5,985.0 L991.4,980.0 L994.3,975.0 L997.2,970.0 L1000.2,965.0 L1003.1,960.0 L1006.0,955.0 L1009.0,950.0 L1011.9,945.1 L1014.8,940.1 L1017.8,935.1 L1020.7,930.1 L1023.7,925.1 L1026.6,920.1 L1029.6,915.1 L1032.5,910.1 L1035.5,905.1 L1038.4,900.2 L1041.4,895.2 L1044.4,890.2 L1047.3,885.2 L1050.3,880.2 L1053.3,875.2 L1056.3,870.2 L1059.2,865.2 L1062.2,860.3 L1065.2,855.3 L1068.2,850.3 L1071.2,845.3 L1074.2,840.3 L1077.2,835.4 L1080.2,830.4 L1083.2,825.4 L1086.2,820.4 L1089.2,815.4 L1092.2,810.5 L1095.2,805.5 L1098.3,800.5 L1101.3,795.6 L1104.3,790.6 L1107.4,785.6 L1110.4,780.7 L1113.4,775.7 L1116.5,770.7 L1119.5,765.8 L1122.6,760.8 L1125.6,755.9 L1128.7,750.9 L1131.7,746.0 L1134.8,741.0 L1137.9,736.1 L1140.9,731.1 L1144.0,726.2 L1147.1,721.3 L1150.2,716.3 L1153.3,711.4 L1156.4,706.5 L1159.4,701.5 L1162.5,696.6 L1165.6,691.7 L1168.8,686.8 L1171.9,681.8 L1175.0,676.9 L1178.1,672.0 L1181.2,667.1 L1184.3,662.2 L1187.5,657.3 L1190.6,652.4 L1193.7,647.5 L1196.9,642.6 L1200.0,637.7 L1203.2,632.8 L1206.3,628.0 L1209.5,623.1 L1212.7,618.2 L1215.8,613.4 L1219.0,608.5 L1222.2,603.6 L1225.4,598.8 L1228.6,593.9 L1231.7,589.1 L1234.9,584.2 L1238.1,579.4 L1241.4,574.6 L1244.6,569.7 L1247.8,564.9 L1251.1,560.1 L1254.3,555.3 L1257.6,550.6 L1260.9,545.8 L1264.2,541.0 L1267.6,536.3 L1270.9,531.6 L1274.3,526.9 L1277.7,522.2 L1281.1,517.6 L1284.6,513.0 L1288.1,508.4 L1291.6,503.8 L1295.2,499.2 L1298.8,494.7 L1302.4,490.2 L1306.1,485.8 L1309.8,481.3 L1313.5,476.9 L1317.3,472.5 L1321.1,468.2 L1324.9,463.9 L1328.8,459.6 L1332.6,455.3 L1336.6,451.0 L1340.5,446.7 L1344.4,442.5 L1348.4,438.3 L1352.4,434.1 L1356.4,429.9 L1360.4,425.7 L1364.5,421.6 L1368.5,417.4 L1372.6,413.3 L1376.6,409.1 L1380.7,405.0 L1384.8,400.9 L1388.9,396.7 L1393.0,392.6 L1397.1,388.5 L1401.3,384.5 L1405.4,380.4 L1409.5,376.3 L1413.7,372.2 L1417.8,368.1 L1421.9,364.1 L1426.1,360.0 L1430.3,356.0 L1434.4,351.9 L1438.6,347.9 L1442.8,343.9 L1447.0,339.9 L1451.2,335.9 L1455.4,332.0 L1459.7,328.0 L1464.0,324.1 L1468.3,320.2 L1472.6,316.4 L1476.9,312.6 L1481.3,308.8 L1485.7,305.1 L1490.2,301.4 L1494.6,297.7 L1499.2,294.1 L1503.7,290.6 L1508.3,287.0 L1513.0,283.6 L1517.6,280.2 L1522.4,276.8 L1527.1,273.5 L1531.9,270.3 L1536.8,267.1 L1541.6,263.9 L1546.5,260.8 L1551.5,257.8 L1556.5,254.8 L1561.5,251.9 L1566.5,249.0 L1571.6,246.1 L1576.7,243.3 L1581.8,240.6 L1586.9,237.9 L1592.1,235.3 L1597.3,232.7 L1602.5,230.1 L1607.7,227.6 L1612.9,225.2 L1618.2,222.8 L1623.5,220.4 L1628.8,218.1 L1634.1,215.9 L1639.4,213.6 L1644.8,211.4 L1650.2,209.3 L1655.6,207.2 L1661.0,205.2 L1666.4,203.1 L1671.8,201.2 L1677.3,199.2 L1682.8,197.3 L1688.2,195.5 L1693.7,193.7 L1699.2,191.9 L1704.8,190.1 L1710.3,188.4 L1715.9,186.7 L1721.4,185.1 L1727.0,183.5 L1732.6,181.9 L1738.2,180.3 L1743.8,178.8 L1749.4,177.3 L1755.0,175.9 L1760.7,174.4 L1766.3,173.0 L1772.0,171.7 L1777.6,170.3 L1783.3,169.0 L1789.0,167.7 L1794.7,166.4 L1800.4,165.2 L1806.1,164.0 L1811.8,162.8 L1817.5,161.6 L1823.2,160.4 L1828.9,159.3 L1834.7,158.2 L1840.4,157.1 L1846.1,156.0 L1851.9,155.0 L1857.6,153.9 L1863.3,152.9 L1869.1,151.9 L1874.8,150.9 L1880.6,149.9 L1886.3,149.0 L1892.1,148.0 L1897.8,147.1 L1903.6,146.2 L1909.3,145.3 L1915.1,144.4 L1920.8,143.5 L1926.6,142.6 L1932.3,141.7 L1938.1,140.9 L1943.8,140.0 L1949.6,139.2 L1955.3,138.3 L1961.0,137.5 L1966.7,136.6 L1972.5,135.8 L1978.2,135.0 L1983.9,134.2 L1989.6,133.3 L1995.3,132.5 L2001.0,131.7 L2006.7,130.9 L2012.4,130.1 L2018.0,129.3 L2023.7,128.4 L2029.3,127.6 L2035.0,126.8" fill="none" stroke-linecap="round" stroke-linejoin="round" stroke="#3653a7" stroke-width="9"/>
<rect x="321.7" y="1325.0" width="30" height="30" fill="#3653a7"/>
<rect x="661.1" y="1368.3" width="30" height="30" fill="#3653a7"/>
<rect x="1001.5" y="920.7" width="30" height="30" fill="#3653a7"/>
<rect x="1341.0" y="416.0" width="30" height="30" fill="#3653a7"/>
<rect x="1680.0" y="178.0" width="30" height="30" fill="#3653a7"/>
<rect x="2020.5" y="112.0" width="30" height="30" fill="#3653a7"/>
</g>
<path d="M346,136 H502" stroke="#3653a7" stroke-width="9" stroke-linecap="round" fill="none"/>
<rect x="408.0" y="121.0" width="30" height="30" fill="#3653a7"/>
<text x="520" y="170" font-size="84" fill="#000">140°C</text>
<path d="M346,237 H502" stroke="#000" stroke-width="10" stroke-linecap="round" fill="none"/>
<polygon points="409.5,212.5 409.5,261.5 450.0,237.0" fill="#fff" stroke="#000" stroke-width="2.8" stroke-linejoin="miter"/>
<text x="520" y="267" font-size="84" fill="#000">145°C</text>
<path d="M346,336 H502" stroke="#ec2d2d" stroke-width="8.5" stroke-linecap="round" fill="none"/>
<circle cx="423.0" cy="336.0" r="19.5" fill="#ec2d2d"/>
<text x="520" y="366" font-size="84" fill="#000">150°C</text>
<path d="M346,436 H502" stroke="#3653a7" stroke-width="8.5" stroke-linecap="round" fill="none"/>
<circle cx="423.0" cy="436.0" r="18.5" fill="#fff" stroke="#3653a7" stroke-width="3"/>
<text x="520" y="465" font-size="84" fill="#000">160°C</text>
<path d="M346,536 H502" stroke="#ec2d2d" stroke-width="8.5" stroke-linecap="round" fill="none"/>
<polygon points="423.0,508.0 399.5,550.0 446.5,550.0" fill="#ec2d2d"/>
<text x="520" y="562" font-size="84" fill="#000">170°C</text>
<text x="286.5" y="102.0" font-size="97" text-anchor="end" fill="#000">20</text>
<text x="283.5" y="463.5" font-size="97" text-anchor="end" fill="#000">15</text>
<text x="286.5" y="774.0" font-size="97" text-anchor="end" fill="#000">10</text>
<text x="283.5" y="1134.5" font-size="97" text-anchor="end" fill="#000">5</text>
<text x="286.5" y="1496.0" font-size="97" text-anchor="end" fill="#000">0</text>
<text x="348.6" y="1580" font-size="97" text-anchor="middle" fill="#000">0</text>
<text x="746.5" y="1580" font-size="97" text-anchor="middle" fill="#000">10</text>
<text x="1185.6" y="1580" font-size="97" text-anchor="middle" fill="#000">20</text>
<text x="1605.5" y="1580" font-size="97" text-anchor="middle" fill="#000">30</text>
<text x="2023.8" y="1580" font-size="97" text-anchor="middle" fill="#000">40</text>
<text x="1049" y="1692" font-size="94" fill="#000"><tspan font-style="italic">t</tspan> (min)</text>
<text transform="translate(126,759.5) rotate(-90)" x="0" y="0" font-size="95" text-anchor="middle" fill="#2b0a0a"><tspan font-style="italic">M</tspan> (Nm)</text>
</g></svg></body></html>
